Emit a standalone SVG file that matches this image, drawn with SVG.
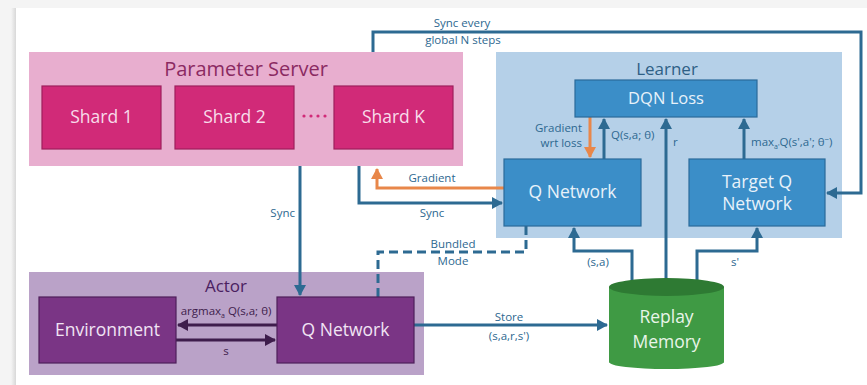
<svg xmlns="http://www.w3.org/2000/svg" width="867" height="385" viewBox="0 0 867 385">
<defs>
<style>
text{font-family:"Open Sans","Noto Sans","Liberation Sans",sans-serif;text-anchor:middle}
.lbl{font-size:11.5px;fill:#2d6890}
.box{font-size:17.5px}
.c{fill:none;stroke:#2d6a92;stroke-width:3}
.o{fill:none;stroke:#e8874a;stroke-width:3}
.p{fill:none;stroke:#3e1d4c;stroke-width:3}
</style>
<linearGradient id="sh" x1="0" x2="1" y1="0" y2="0">
<stop offset="0" stop-color="#f4f4f4"/><stop offset="1" stop-color="#d8d8d8"/>
</linearGradient>
<marker id="ab" markerUnits="userSpaceOnUse" markerWidth="12" markerHeight="12" refX="10" refY="6" orient="auto"><path d="M0,0 L11,6 L0,12 Z" fill="#2d6a92"/></marker>
<marker id="ao" markerUnits="userSpaceOnUse" markerWidth="12" markerHeight="12" refX="10" refY="6" orient="auto"><path d="M0,0 L11,6 L0,12 Z" fill="#e8874a"/></marker>
<marker id="ap" markerUnits="userSpaceOnUse" markerWidth="12" markerHeight="12" refX="10" refY="6" orient="auto"><path d="M0,0 L11,6 L0,12 Z" fill="#3e1d4c"/></marker>
</defs>
<rect width="867" height="385" fill="#f4f4f4"/>
<rect x="11" y="8" width="5" height="377" fill="url(#sh)"/>
<rect x="16" y="8" width="851" height="377" fill="#ffffff"/>

<g id="parameter-server">
<rect x="29" y="52" width="434" height="114" fill="#e8aecf"/>
<text x="246" y="76" font-size="20" fill="#8b2a62">Parameter Server</text>
<g fill="#d12a78"><circle cx="304" cy="116" r="1.6"/><circle cx="311" cy="116" r="1.6"/><circle cx="318" cy="116" r="1.6"/><circle cx="325" cy="116" r="1.6"/></g>
</g>
<g id="shard-1"><rect x="42" y="86" width="119" height="63" fill="#d12a78" stroke="#9e1f5c" stroke-width="1.2"/><text class="box" x="101.5" y="123" fill="#f8dcea">Shard 1</text></g>
<g id="shard-2"><rect x="175" y="86" width="119" height="63" fill="#d12a78" stroke="#9e1f5c" stroke-width="1.2"/><text class="box" x="234.5" y="123" fill="#f8dcea">Shard 2</text></g>
<g id="shard-k"><rect x="334" y="86" width="119" height="63" fill="#d12a78" stroke="#9e1f5c" stroke-width="1.2"/><text class="box" x="393.5" y="123" fill="#f8dcea">Shard K</text></g>

<g id="learner">
<rect x="496" y="52" width="346" height="186" fill="#b5d0e8"/>
<text x="667" y="75" font-size="17" fill="#2e5f85">Learner</text>
</g>

<g id="actor">
<rect x="29" y="272" width="395" height="103" fill="#baa2c8"/>
<text x="226" y="292" font-size="17" fill="#4a2060">Actor</text>
</g>

<g id="connectors">
<polyline class="c" points="373,52 373,32 861,32 861,193 827,193" marker-end="url(#ab)"/>
<polyline class="c" points="300,166 300,295" marker-end="url(#ab)"/>
<polyline class="c" points="359,166 359,203 502,203" marker-end="url(#ab)"/>
<polyline class="o" points="504,188 377,188 377,169" marker-end="url(#ao)"/>
<polyline class="c" points="526,226 526,252 378,252 378,297" stroke-dasharray="9,5"/>
<polyline class="o" points="590,117 590,157" marker-end="url(#ao)"/>
<polyline class="c" points="604,159 604,119" marker-end="url(#ab)"/>
<polyline class="c" points="666,285 666,119" marker-end="url(#ab)"/>
<polyline class="c" points="744,159 744,119" marker-end="url(#ab)"/>
<polyline class="c" points="632,285 632,251 574,251 574,228" marker-end="url(#ab)"/>
<polyline class="c" points="697,285 697,251 757,251 757,228" marker-end="url(#ab)"/>
<polyline class="c" points="414,325 607,325" marker-end="url(#ab)"/>
<polyline class="p" points="277,325 178,325" marker-end="url(#ap)"/>
<polyline class="p" points="176,340 275,340" marker-end="url(#ap)"/>
<text class="lbl" x="462" y="27">Sync every</text>
<text class="lbl" x="463" y="44">global N steps</text>
<text class="lbl" x="295" y="217" style="text-anchor:end">Sync</text>
<text class="lbl" x="432" y="182">Gradient</text>
<text class="lbl" x="432" y="217">Sync</text>
<text class="lbl" x="453" y="248">Bundled</text>
<text class="lbl" x="453" y="265">Mode</text>
<text class="lbl" x="582" y="132" style="text-anchor:end">Gradient</text>
<text class="lbl" x="582" y="147" style="text-anchor:end">wrt loss</text>
<text class="lbl" x="611" y="139" style="text-anchor:start">Q(s,a; θ)</text>
<text class="lbl" x="673" y="146" style="text-anchor:start">r</text>
<text class="lbl" x="751" y="146" style="text-anchor:start">max<tspan font-size="7" dy="3">a'</tspan><tspan dy="-3">Q(s',a'; θ</tspan><tspan font-size="8" dy="-4">−</tspan><tspan dy="4">)</tspan></text>
<text class="lbl" x="598" y="266">(s,a)</text>
<text class="lbl" x="735" y="266">s'</text>
<text class="lbl" x="509" y="321">Store</text>
<text class="lbl" x="509" y="340">(s,a,r,s')</text>
<text class="lbl" x="226" y="315" style="fill:#3e1d4c">argmax<tspan font-size="7" dy="3">a</tspan><tspan dy="-3"> Q(s,a; θ)</tspan></text>
<text class="lbl" x="226" y="355" style="fill:#3e1d4c">s</text>
</g>

<g id="dqn-loss"><rect x="575" y="80" width="182" height="37" fill="#3b8ec8" stroke="#2a6a9a" stroke-width="1.2"/><text x="666" y="104" font-size="16.5" fill="#e8f2fa">DQN Loss</text></g>
<g id="learner-q-network"><rect x="504" y="159" width="137" height="67" fill="#3b8ec8" stroke="#2a6a9a" stroke-width="1.2"/><text class="box" x="572.5" y="198" fill="#e8f2fa">Q Network</text></g>
<g id="target-q-network"><rect x="689" y="159" width="136" height="67" fill="#3b8ec8" stroke="#2a6a9a" stroke-width="1.2"/><text class="box" x="757" y="188" fill="#e8f2fa">Target Q</text><text class="box" x="757" y="210" fill="#e8f2fa">Network</text></g>
<g id="environment"><rect x="39" y="297" width="137" height="66" fill="#7a3585" stroke="#4e1f5a" stroke-width="1.2"/><text class="box" x="107.5" y="336" fill="#f1e4f4">Environment</text></g>
<g id="actor-q-network"><rect x="277" y="297" width="137" height="66" fill="#7a3585" stroke="#4e1f5a" stroke-width="1.2"/><text class="box" x="345.5" y="336" fill="#f1e4f4">Q Network</text></g>
<g id="replay-memory">
<path d="M609,287 L609,362 A57.5,7 0 0 0 724,362 L724,287 Z" fill="#3f9a44"/>
<ellipse cx="666.5" cy="287" rx="57.5" ry="9" fill="#2e7a33"/>
<text class="box" x="666.5" y="323" fill="#e9f5e9">Replay</text>
<text class="box" x="666.5" y="348" fill="#e9f5e9">Memory</text>
</g>
</svg>
